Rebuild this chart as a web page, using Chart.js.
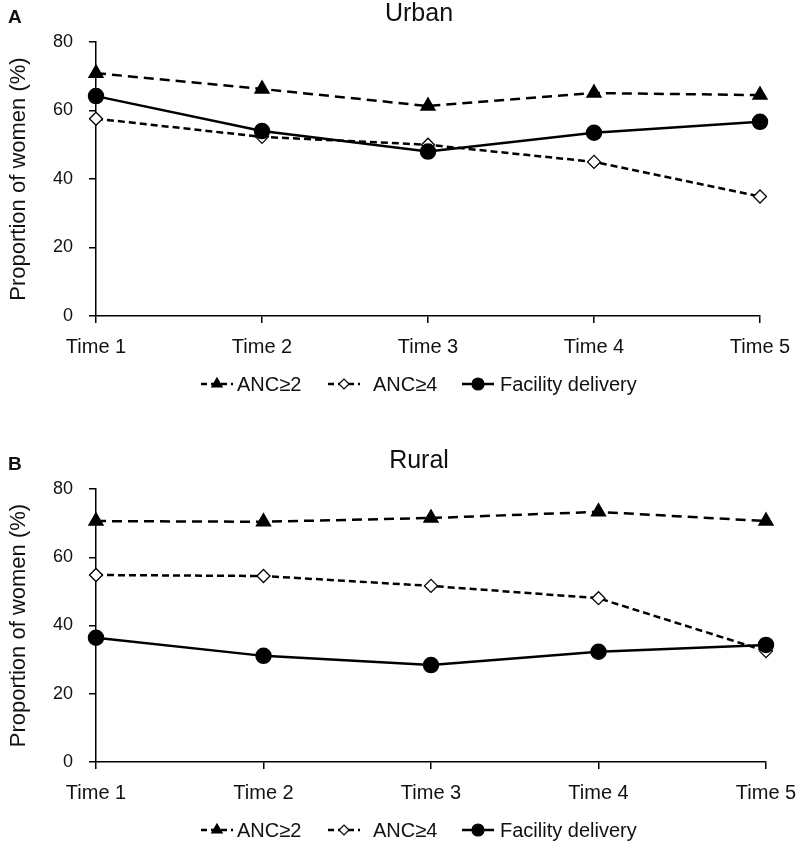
<!DOCTYPE html>
<html>
<head>
<meta charset="utf-8">
<script src="https://cdn.jsdelivr.net/npm/chart.js@4"></script>
<style>
  body { margin: 0; background: #fff; }
  canvas { position: absolute; left: 0; }
  #urban { top: 0; }
  #rural { top: 447px; }
</style>
</head>
<body>
<canvas id="urban" width="800" height="400"></canvas>
<canvas id="rural" width="800" height="394"></canvas>
<script>
// values (% of women)
const timeLabels = ["Time 1", "Time 2", "Time 3", "Time 4", "Time 5"];
const seriesNames = ["ANC≥2", "ANC≥4", "Facility delivery"];
const yTicks = [0, 20, 40, 60, 80];

const urbanAnc2 = [70.9, 66.3, 61.3, 65.1, 64.5];
const urbanAnc4 = [57.6, 52.3, 50.0, 45.0, 34.9];
const urbanFacility = [64.2, 54.0, 48.0, 53.5, 56.7];

const ruralAnc2 = [70.6, 70.4, 71.5, 73.3, 70.6];
const ruralAnc4 = [54.8, 54.5, 51.6, 48.0, 32.5];
const ruralFacility = [36.4, 31.1, 28.4, 32.3, 34.3];

const FONT = '"Liberation Sans", Arial, sans-serif';

// panel letter, title and a line+marker legend under the axis
const panelDecor = {
  id: 'panelDecor',
  afterDraw(chart, args, opts) {
    const ctx = chart.ctx, area = chart.chartArea;
    ctx.save();
    ctx.fillStyle = '#111';
    ctx.textBaseline = 'middle';
    ctx.font = 'bold 19px ' + FONT;
    ctx.fillText(opts.letter, 8, 18);
    ctx.font = '25px ' + FONT;
    ctx.textAlign = 'center';
    ctx.fillText(opts.title, 419, 14);

    ctx.textAlign = 'left';
    ctx.font = '20px ' + FONT;
    const y = area.bottom + 68;
    chart.data.datasets.forEach((ds, i) => {
      const x = opts.legendX[i];
      ctx.strokeStyle = '#000';
      ctx.lineWidth = 2.5;
      ctx.setLineDash(ds.borderDash ? [6, 4] : []);
      ctx.beginPath();
      ctx.moveTo(x, y);
      ctx.lineTo(x + 32, y);
      ctx.stroke();
      ctx.setLineDash([]);
      ctx.fillStyle = ds.pointBackgroundColor;
      ctx.lineWidth = 1.2;
      Chart.helpers.drawPoint(ctx, {
        pointStyle: ds.pointStyle, radius: ds.pointStyle === 'rectRot' ? 5 : 6,
        rotation: 0, borderWidth: 1.2
      }, x + 16, y);
      ctx.fillStyle = '#111';
      ctx.fillText(ds.label, x + opts.textGap[i], y + 1);
    });
    ctx.restore();
  }
};

function makePanel(id, title, letter, anc2, anc4, facility, rightPad, xHeight) {
  return new Chart(document.getElementById(id), {
    type: 'line',
    data: {
      labels: timeLabels,
      datasets: [{
        label: seriesNames[0],
        data: anc2,
        borderColor: '#000',
        borderWidth: 2.5,
        borderDash: [10, 6],
        pointStyle: 'triangle',
        pointRadius: 7,
        pointBackgroundColor: '#000',
        pointBorderColor: '#000',
        tension: 0
      }, {
        label: seriesNames[1],
        data: anc4,
        borderColor: '#000',
        borderWidth: 2.5,
        borderDash: [7, 4],
        pointStyle: 'rectRot',
        pointRadius: 6.5,
        pointBorderWidth: 1.3,
        pointBackgroundColor: '#fff',
        pointBorderColor: '#000',
        tension: 0
      }, {
        label: seriesNames[2],
        data: facility,
        borderColor: '#000',
        borderWidth: 2.5,
        pointStyle: 'circle',
        pointRadius: 7,
        pointBackgroundColor: '#000',
        pointBorderColor: '#000',
        order: -1,
        tension: 0
      }]
    },
    options: {
      responsive: false,
      animation: false,
      layout: { padding: { left: 0, right: rightPad, top: 42, bottom: 0 } },
      plugins: {
        legend: { display: false },
        tooltip: { enabled: false },
        panelDecor: { title, letter, legendX: [201, 328, 462], textGap: [36, 45, 38] }
      },
      scales: {
        x: {
          offset: false,
          grid: { drawOnChartArea: false, color: '#000', lineWidth: 1.5, tickLength: 7 },
          border: { color: '#000', width: 1.5 },
          ticks: { color: '#111', font: { family: FONT, size: 20 }, padding: 12, maxRotation: 0 },
          afterFit: s => { s.height = xHeight; s.paddingLeft = 0; s.paddingRight = 0; }
        },
        y: {
          min: 0,
          max: 80,
          afterBuildTicks: s => { s.ticks = yTicks.map(v => ({ value: v })); },
          grid: { drawOnChartArea: false, color: '#000', lineWidth: 1.5, tickLength: 7 },
          border: { color: '#000', width: 1.5 },
          ticks: { color: '#111', font: { family: FONT, size: 18 }, padding: 16 },
          title: {
            display: true,
            text: 'Proportion of women (%)',
            color: '#111',
            font: { family: FONT, size: 22 },
            padding: { top: 6, bottom: 0 }
          },
          afterFit: s => { s.width = 96; }
        }
      }
    },
    plugins: [panelDecor]
  });
}

makePanel('urban', 'Urban', 'A', urbanAnc2, urbanAnc4, urbanFacility, 40, 84);
makePanel('rural', 'Rural', 'B', ruralAnc2, ruralAnc4, ruralFacility, 34, 79);
</script>
</body>
</html>
